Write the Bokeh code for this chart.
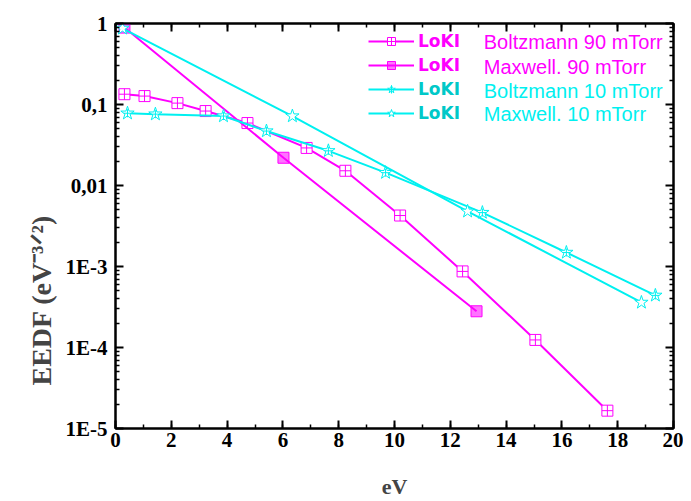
from bokeh.plotting import figure
from bokeh.models import (Range1d, LinearAxis, LogAxis, FixedTicker, SingleIntervalTicker,
                          Legend, LegendItem, Label, CustomJSTickFormatter, Title)
from bokeh.embed import file_html
from bokeh.resources import INLINE

# ---- data ----
b90_x = [0.32, 1.04, 2.22, 3.23, 4.73, 6.85, 8.24, 10.2, 12.44, 15.05, 17.63]
b90_y = [0.134, 0.127, 0.104, 0.083, 0.059, 0.0291, 0.0152, 0.00426, 8.7e-4, 1.24e-4, 1.66e-5]

m90_x = [0.32, 6.02, 12.94]
m90_y = [0.89, 0.022, 2.8e-4]

b10_x = [0.43, 1.43, 3.87, 5.41, 7.63, 9.68, 13.15, 16.16, 19.35]
b10_y = [0.078, 0.076, 0.072, 0.047, 0.0268, 0.0144, 0.00463, 0.00149, 4.4e-4]

m10_x = [0.25, 6.34, 12.62, 18.85]
m10_y = [0.87, 0.072, 0.0048, 3.6e-4]

y_ticks = [1e-5, 1e-4, 1e-3, 1e-2, 1e-1, 1.0]
y_tick_labels = ["1E-5", "1E-4", "1E-3", "0,01", "0,1", "1"]

legend_names = ["Boltzmann 90 mTorr", "Maxwell. 90 mTorr",
                "Boltzmann 10 mTorr", "Maxwell. 10 mTorr"]

MAG = "#ff00ff"
CYA = "#00f0f0"
TEAL = "#00c8c8"

W, H = 683, 501
p = figure(width=W, height=H, x_range=Range1d(0, 20), y_range=Range1d(1e-5, 1),
           y_axis_type="log", output_backend="svg", toolbar_location=None,
           min_border_left=115, min_border_right=10, min_border_top=23, min_border_bottom=71)
p.grid.visible = False
p.outline_line_color = "black"
p.outline_line_width = 2
p.background_fill_color = "white"

tick_font = "Liberation Serif"

xa = p.xaxis[0]
xa.ticker = SingleIntervalTicker(interval=2, num_minor_ticks=2)
ya = p.yaxis[0]
minor = [k * 10.0 ** e for e in range(-5, 0) for k in range(2, 10)]
ya.ticker = FixedTicker(ticks=y_ticks, minor_ticks=minor)
ya.major_label_overrides = {t: l for t, l in zip(y_ticks, y_tick_labels)}

def style_axis(ax):
    ax.major_tick_in = 8
    ax.major_tick_out = 0
    ax.minor_tick_in = 4
    ax.minor_tick_out = 0
    ax.axis_line_width = 2
    ax.major_tick_line_width = 2
    ax.minor_tick_line_width = 1.5

for ax in (xa, ya):
    style_axis(ax)
    ax.major_label_text_font = tick_font
    ax.major_label_text_font_style = "bold"
    ax.major_label_text_font_size = "21px"
    ax.major_label_text_color = "black"
xa.major_label_standoff = 4
ya.major_label_standoff = 8

xa.axis_label = "eV"
xa.axis_label_text_font = tick_font
xa.axis_label_text_font_style = "bold"
xa.axis_label_text_font_size = "22px"
xa.axis_label_standoff = 24

blank = CustomJSTickFormatter(code="return '';")
top = LinearAxis(ticker=SingleIntervalTicker(interval=2, num_minor_ticks=2), formatter=blank)
right = LogAxis(ticker=FixedTicker(ticks=y_ticks, minor_ticks=minor), formatter=blank)
for ax in (top, right):
    style_axis(ax)
    ax.major_label_standoff = 0
    ax.major_label_text_font_size = "2px"
p.add_layout(top, "above")
p.add_layout(right, "right")

# y-axis title as a left-side title, shifted along the axis
p.add_layout(Title(text="EEDF (eV\u207b\u00b3\u141f\u00b2)", align="left", offset=43,
                   text_font=tick_font, text_font_style="bold", text_font_size="28px",
                   standoff=11), "left")

# ---- series ----
l_b90 = p.line(b90_x, b90_y, line_color=MAG, line_width=2)
s_b90 = p.scatter(b90_x, b90_y, marker="square_cross", size=11, line_color=MAG,
                  fill_color="white", line_width=1)
l_m90 = p.line(m90_x, m90_y, line_color=MAG, line_width=2)
s_m90 = p.scatter(m90_x, m90_y, marker="square", size=11, line_color=MAG,
                  fill_color=MAG, fill_alpha=0.55, line_width=1)
l_b10 = p.line(b10_x, b10_y, line_color=CYA, line_width=2)
s_b10 = p.scatter(b10_x, b10_y, marker="star", size=14, line_color=CYA,
                  fill_color="white", line_width=1)
c_b10 = p.scatter(b10_x, b10_y, marker="cross", size=8, line_color=CYA, line_width=1)
l_m10 = p.line(m10_x, m10_y, line_color=CYA, line_width=2)
s_m10 = p.scatter(m10_x, m10_y, marker="star", size=14, line_color=CYA,
                  fill_color="white", line_width=1)

def mk_legend(items, color, loc):
    lg = Legend(items=items, location=loc, label_text_font="DejaVu Sans",
                label_text_font_style="bold", label_text_font_size="17px",
                label_text_color=color, glyph_width=46, glyph_height=20,
                label_height=20, label_standoff=4, spacing=4, padding=0, margin=0,
                border_line_alpha=0, background_fill_alpha=0)
    return lg

lg1 = mk_legend([LegendItem(label="LoKI", renderers=[l_b90, s_b90]),
                 LegendItem(label="LoKI", renderers=[l_m90, s_m90])], MAG, (253, 353))
lg2 = mk_legend([LegendItem(label="LoKI", renderers=[l_b10, s_b10, c_b10]),
                 LegendItem(label="LoKI", renderers=[l_m10, s_m10])], TEAL, (253, 305))
p.add_layout(lg1)
p.add_layout(lg2)

row_py = [42, 67, 91, 114]
row_cols = [MAG, MAG, CYA, CYA]
for name, py, col in zip(legend_names, row_py, row_cols):
    p.add_layout(Label(x=13.2, y=10 ** (-(py - 23) / 81.4), text=name,
                       text_font="Liberation Sans", text_font_size="20px",
                       text_color=col, text_baseline="middle", text_align="left"))

open("out.html", "w").write(file_html(p, INLINE))
